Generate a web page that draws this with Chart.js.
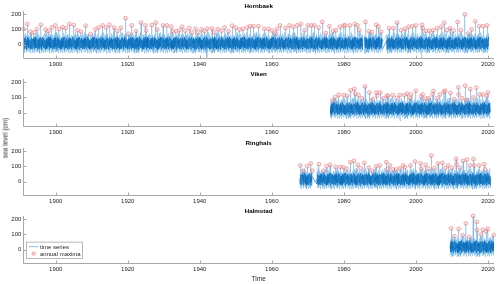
<!DOCTYPE html>
<html>
<head>
<meta charset="utf-8">
<script src="https://cdn.jsdelivr.net/npm/chart.js@4.4.1/dist/chart.umd.min.js"></script>
<style>
  body { margin: 0; background: #fff; }
  #wrap { position: relative; width: 500px; height: 284px; font-family: "Liberation Sans", Arial, sans-serif; color: #262626; }
  #wrap canvas { position: absolute; left: 0; }
  .lbl { position: absolute; font-size: 6.5px; white-space: nowrap; }
  #ylab { left: 5px; top: 138px; transform: translate(-50%, -50%) rotate(-90deg); }
  #xlab { left: 258.7px; top: 278px; transform: translate(-50%, -50%); }
</style>
</head>
<body>
<div id="wrap">
  <canvas id="c0" width="500" height="70"></canvas>
  <canvas id="c1" width="500" height="70"></canvas>
  <canvas id="c2" width="500" height="70"></canvas>
  <canvas id="c3" width="500" height="70"></canvas>
  <div class="lbl" id="ylab">sea level (cm)</div>
  <div class="lbl" id="xlab">Time</div>
</div>
<script>
// stations and axes
const stations = ['Hornbaek', 'Viken', 'Ringhals', 'Halmstad'];
const xTicks = [1900, 1920, 1940, 1960, 1980, 2000, 2020];
const yTicks = [0, 100, 200];

// annual maxima (decimal year, cm)
const hornbaekMaxYears = [1891.1,1892.1,1893.0,1893.9,1894.8,1895.9,1897.2,1898.0,1898.9,1899.9,1900.9,1901.9,1902.8,1903.8,1905.0,1906.0,1907.0,1908.3,1909.7,1911.0,1911.9,1913.0,1914.0,1914.9,1916.2,1917.1,1918.1,1919.4,1920.2,1921.1,1922.3,1923.7,1924.9,1925.1,1926.7,1927.8,1928.2,1929.8,1930.9,1932.1,1932.4,1933.4,1934.3,1935.1,1936.0,1937.1,1937.8,1938.8,1939.6,1940.5,1941.3,1942.1,1943.4,1944.0,1945.0,1946.0,1946.9,1948.0,1949.0,1950.0,1951.0,1952.0,1953.2,1954.0,1954.9,1956.3,1957.9,1959.1,1960.1,1961.0,1961.4,1962.3,1963.8,1964.9,1966.0,1967.1,1968.1,1969.1,1970.0,1971.0,1971.8,1973.0,1974.0,1975.0,1976.0,1977.0,1977.8,1979.0,1980.0,1980.4,1981.7,1983.1,1983.8,1984.3,1986.0,1987.0,1987.8,1989.0,1989.6,1990.3,1992.6,1993.8,1994.8,1995.9,1997.0,1998.0,1999.0,2000.0,2001.7,2001.9,2002.8,2003.7,2004.8,2005.9,2007.1,2007.9,2008.6,2009.5,2010.5,2011.6,2012.5,2013.6,2014.5,2015.5,2016.5,2017.6,2018.7,2019.8];
const hornbaekMaxValues = [104,136,85,80,102,131,100,90,113,127,102,116,109,136,129,95,86,125,70,100,113,127,113,131,113,90,111,175,72,127,90,145,127,93,129,145,100,127,127,118,88,88,95,118,92,109,80,106,80,100,90,106,106,80,102,92,113,88,125,111,100,104,113,122,122,122,104,104,92,73,104,127,109,127,118,127,136,95,127,127,127,113,150,77,122,90,95,118,127,127,127,136,127,95,150,88,82,131,118,86,109,109,145,95,104,118,122,127,131,109,90,91,95,109,118,145,95,109,92,150,95,200,73,100,154,122,122,127];

const vikenMaxYears = [1976.8,1977.6,1978.6,1980.0,1980.9,1981.9,1982.9,1983.2,1984.1,1985.0,1985.9,1987.1,1988.0,1989.1,1989.2,1990.1,1991.0,1992.0,1992.3,1993.6,1994.7,1995.5,1996.8,1997.6,1998.5,1998.7,2000.0,2001.5,2001.9,2002.7,2003.5,2004.6,2004.9,2005.8,2006.7,2007.8,2008.1,2009.6,2010.6,2011.8,2011.9,2012.8,2013.7,2014.0,2015.1,2016.0,2016.8,2017.7,2018.6,2019.7,2020.0];
const vikenMaxValues = [80,103,118,116,111,147,156,125,116,95,173,133,89,133,112,133,95,111,111,116,96,116,116,125,96,120,145,107,120,92,96,120,143,95,120,138,145,131,89,167,120,95,178,84,156,100,165,120,120,111,133];

const ringhalsMaxYears = [1967.9,1968.7,1969.8,1970.8,1971.2,1973.1,1974.4,1975.2,1976.2,1977.7,1979.0,1979.9,1980.8,1981.8,1982.8,1983.9,1984.8,1985.7,1986.9,1987.8,1989.0,1990.0,1991.8,1992.1,1992.8,1993.6,1994.6,1995.6,1996.5,1997.0,1998.5,1999.8,2001.3,2001.5,2002.7,2003.5,2004.3,2005.2,2006.2,2007.4,2008.2,2009.0,2010.1,2011.2,2011.3,2012.2,2013.1,2014.2,2015.0,2016.0,2016.2,2017.6,2019.0,2019.2];
const ringhalsMaxValues = [107,72,102,120,72,115,72,102,111,98,98,94,85,129,137,111,88,124,94,72,102,107,129,81,107,81,81,88,107,94,107,133,120,85,111,85,172,90,120,124,90,107,90,150,115,92,137,146,107,150,107,107,115,81];

const halmstadMaxYears = [2009.8,2010.7,2011.9,2013.0,2013.9,2014.8,2015.9,2016.9,2017.0,2018.0,2018.6,2019.5,2020.0,2021.6];
const halmstadMaxValues = [140,89,137,95,173,84,222,184,130,100,130,122,138,97];

// periods with records (start, end)
const hornbaekSpans = [[1891.0, 1985.3], [1985.8, 1990.7], [1991.9, 2020.3]];
const vikenSpans = [[1976.3, 2020.7]];
const ringhalsSpans = [[1967.8, 1971.2], [1972.5, 2020.7]];
const halmstadSpans = [[2009.5, 2021.7]];

// deep low-water readings (decimal year, cm)
const hornbaekLowYears = [1942.0, 2001.6];
const hornbaekLowValues = [-85, -95];
const vikenLowYears = [1995.6];
const vikenLowValues = [-55];
const ringhalsLowYears = [1985.2];
const ringhalsLowValues = [-50];
const halmstadLowYears = [2010.3];
const halmstadLowValues = [-45];

// mean level of each record (cm)
const stationMeans = [5, 22, 12, 15];

// representative sea level readings (cm, about monthly) cycled through each record
const surgeLevels = [18,-50,45,-22,58,-60,33,-12,52,-42,70,-30,8,55,-55,27,-35,75,-18,42,-52,12,60,-45,22,-8,50,-62,38,-26,65,-38,15,48,-58,30,-15];
const coreLevels = [8,-30,27,-12,38,-33,15,-5,33,-22,42,-18,3,30,-36,18,-15,45,-9,22,-27,6,36,-24,12,-3,28,-35,21];

const perYear = 14;
const plotTop = 11, plotHeight = 47.3, panelStep = 68.4;
const fontFam = '"Liberation Sans", Arial, sans-serif';

function buildLine(spans, levels, shift, extraX, extraY) {
  const pts = [];
  let k = 0;
  spans.forEach(([a, b]) => {
    const n = Math.round((b - a) * perYear);
    for (let j = 0; j <= n; j++) {
      pts.push({ x: a + j / perYear, y: levels[k % levels.length] + shift });
      k++;
    }
    pts.push({ x: b + 0.02, y: NaN });
  });
  extraX.forEach((x, i) => pts.push({ x: x, y: extraY[i] }));
  pts.sort((p, q) => p.x - q.x);
  return pts;
}

const axesPlugin = {
  id: 'matlabAxes',
  afterDraw(chart) {
    const { ctx, chartArea: a, scales } = chart;
    ctx.save();
    ctx.strokeStyle = '#a8a8a8';
    ctx.lineWidth = 1;
    const L = Math.round(a.left) + 0.5, B = Math.round(a.bottom) + 0.5;
    ctx.beginPath();
    ctx.moveTo(L, Math.round(a.top));
    ctx.lineTo(L, B);
    ctx.lineTo(Math.round(a.right), B);
    xTicks.forEach(v => {
      const px = Math.round(scales.x.getPixelForValue(v)) + 0.5;
      ctx.moveTo(px, B);
      ctx.lineTo(px, B - 3);
    });
    yTicks.forEach(v => {
      const py = Math.round(scales.y.getPixelForValue(v)) + 0.5;
      ctx.moveTo(L, py);
      ctx.lineTo(L + 3, py);
    });
    ctx.stroke();
    // panel title
    ctx.fillStyle = '#000';
    ctx.font = 'bold 6.2px ' + fontFam;
    ctx.textAlign = 'center';
    ctx.textBaseline = 'middle';
    ctx.fillText(chart.options.panelTitle, (a.left + a.right) / 2, a.top - 4.5);
    // legend on the last panel
    if (chart.options.showKey) {
      const top = 242.3 - chart.options.canvasTop;
      ctx.fillStyle = '#fff';
      ctx.fillRect(26.5, top, 56, 16.4);
      ctx.strokeStyle = '#9a9a9a';
      ctx.lineWidth = 0.7;
      ctx.strokeRect(26.5, top, 56, 16.4);
      ctx.strokeStyle = 'rgba(90,165,225,0.9)';
      ctx.lineWidth = 0.8;
      ctx.beginPath();
      ctx.moveTo(29, top + 4.6);
      ctx.lineTo(38.5, top + 4.6);
      ctx.stroke();
      ctx.beginPath();
      ctx.arc(33.7, top + 11.6, 1.6, 0, Math.PI * 2);
      ctx.fillStyle = 'rgba(255,190,190,0.5)';
      ctx.fill();
      ctx.strokeStyle = 'rgba(240,90,90,0.7)';
      ctx.stroke();
      ctx.fillStyle = '#262626';
      ctx.font = '6px ' + fontFam;
      ctx.textAlign = 'left';
      ctx.fillText('time series', 40, top + 4.8);
      ctx.fillText('annual maxima', 40, top + 11.8);
    }
    ctx.restore();
  }
};

const maxYears = [hornbaekMaxYears, vikenMaxYears, ringhalsMaxYears, halmstadMaxYears];
const maxValues = [hornbaekMaxValues, vikenMaxValues, ringhalsMaxValues, halmstadMaxValues];
const spans = [hornbaekSpans, vikenSpans, ringhalsSpans, halmstadSpans];
const lowYears = [hornbaekLowYears, vikenLowYears, ringhalsLowYears, halmstadLowYears];
const lowValues = [hornbaekLowValues, vikenLowValues, ringhalsLowValues, halmstadLowValues];

stations.forEach((name, i) => {
  const canvas = document.getElementById('c' + i);
  const canvasTop = plotTop + panelStep * i - 12;
  canvas.style.top = canvasTop + 'px';

  const allX = maxYears[i].concat(lowYears[i]);
  const allY = maxValues[i].concat(lowValues[i]);
  const env = buildLine(spans[i], surgeLevels, stationMeans[i], allX, allY);
  const core = buildLine(spans[i], coreLevels, stationMeans[i], [], []);
  const maxima = maxYears[i].map((x, j) => ({ x: x, y: maxValues[i][j] }));

  new Chart(canvas, {
    type: 'line',
    data: {
      datasets: [
        { data: maxima, showLine: false, pointRadius: 1.9, pointBorderWidth: 0.7,
          pointBorderColor: 'rgba(240,90,90,0.7)', pointBackgroundColor: 'rgba(255,190,190,0.3)', clip: false },
        { data: core, borderColor: '#0b6fbd', borderWidth: 0.65, pointRadius: 0 },
        { data: env, borderColor: 'rgba(95,170,228,0.7)', borderWidth: 0.6, pointRadius: 0 }
      ]
    },
    options: {
      panelTitle: name,
      showKey: i === 3,
      canvasTop: canvasTop,
      animation: false,
      responsive: false,
      parsing: false,
      normalized: true,
      events: [],
      layout: { padding: { top: 12, right: 6, left: 0, bottom: 0 } },
      plugins: { legend: { display: false }, tooltip: { enabled: false } },
      scales: {
        x: {
          type: 'linear', min: 1891, max: 2021.7,
          afterBuildTicks: s => { s.ticks = xTicks.map(v => ({ value: v })); },
          afterFit: s => { s.height = 70 - 12 - plotHeight; },
          grid: { display: false, drawTicks: false },
          border: { display: false },
          ticks: { font: { size: 6, family: fontFam }, color: '#262626', padding: 2.5, maxRotation: 0, callback: v => String(v) }
        },
        y: {
          type: 'linear', min: -90, max: 222,
          afterBuildTicks: s => { s.ticks = yTicks.map(v => ({ value: v })); },
          afterFit: s => { s.width = 23.3; },
          grid: { display: false, drawTicks: false },
          border: { display: false },
          ticks: { font: { size: 6, family: fontFam }, color: '#262626', padding: 2, callback: v => String(v) }
        }
      }
    },
    plugins: [axesPlugin]
  });
});
</script>
</body>
</html>
